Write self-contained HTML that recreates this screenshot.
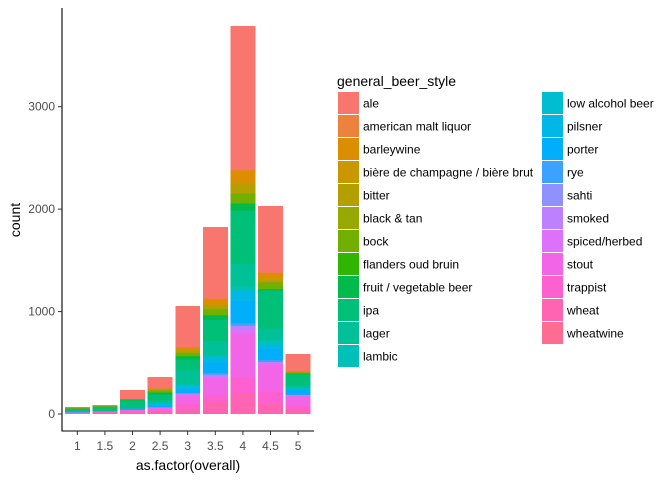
<!DOCTYPE html>
<html><head><meta charset="utf-8"><style>
body{margin:0;background:#fff;}
svg{font-family:"Liberation Sans",Arial,sans-serif;}
</style></head><body>
<svg id="chart" width="672" height="480" viewBox="0 0 672 480" xmlns="http://www.w3.org/2000/svg">
<g id="bars" shape-rendering="crispEdges"></g>
<g id="axes"></g>
<g id="legend"></g>
</svg>
<script>
const categories = ["1","1.5","2","2.5","3","3.5","4","4.5","5"];
const styles = ["ale","american malt liquor","barleywine","bière de champagne / bière brut","bitter","black & tan","bock","flanders oud bruin","fruit / vegetable beer","ipa","lager","lambic","low alcohol beer","pilsner","porter","rye","sahti","smoked","spiced/herbed","stout","trappist","wheat","wheatwine"];
const ale        = [4,12,90,110,404,700,1400,650,165];
const amerMalt   = [0,0,0,0,2,3,10,3,0];
const barleywine = [10,2,2,16,26,52,120,52,16];
const biere      = [0,0,0,0,4,8,20,26,0];
const bitter     = [0,0,0,6,20,33,81,10,2];
const blackTan   = [0,0,0,2,4,10,12,4,0];
const bock       = [2,2,2,15,30,55,90,65,8];
const flanders   = [0,0,0,3,4,6,8,4,2];
const fruit      = [10,4,12,19,30,39,62,13,8];
const ipa        = [20,40,70,60,108,205,520,371,108];
const lager      = [0,0,6,28,135,145,221,117,22];
const lambic     = [0,0,0,6,16,20,49,39,16];
const lowAlc     = [0,0,0,0,2,2,4,2,0];
const pilsner    = [0,0,0,10,33,52,88,39,2];
const porter     = [7,2,14,19,33,95,215,111,49];
const rye        = [0,0,0,4,6,16,23,16,4];
const sahti      = [0,0,0,0,2,4,6,2,0];
const smoked     = [0,0,0,4,7,16,33,10,4];
const spiced     = [0,0,2,4,10,20,40,16,8];
const stout      = [8,13,12,16,81,160,429,266,87];
const trappist   = [0,0,4,14,46,65,153,111,39];
const wheat      = [7,13,22,25,52,120,195,104,46];
const wheatwine  = [0,0,0,0,0,0,10,0,0];
const series = [ale,amerMalt,barleywine,biere,bitter,blackTan,bock,flanders,fruit,ipa,lager,lambic,lowAlc,pilsner,porter,rye,sahti,smoked,spiced,stout,trappist,wheat,wheatwine];
const yTicks = [0,1000,2000,3000];

function hcl(h){
  const L=65,C=100,hr=h*Math.PI/180;
  const u=C*Math.cos(hr),v=C*Math.sin(hr);
  const Xn=95.047,Yn=100,Zn=108.883,den=Xn+15*Yn+3*Zn;
  const un=4*Xn/den,vn=9*Yn/den;
  const Y=Yn*Math.pow((L+16)/116,3);
  const up=u/(13*L)+un,vp=v/(13*L)+vn;
  const X=9*Y*up/(4*vp),Z=Y*(12-3*up-20*vp)/(4*vp);
  const x=X/100,y=Y/100,z=Z/100;
  let r=3.2404542*x-1.5371385*y-0.4985314*z;
  let g=-0.9692660*x+1.8760108*y+0.0415560*z;
  let b=0.0556434*x-0.2040259*y+1.0572252*z;
  const gam=c=>{c=c<=0.0031308?12.92*c:1.055*Math.pow(c,1/2.4)-0.055;return Math.round(Math.max(0,Math.min(1,c))*255);};
  return `rgb(${gam(r)},${gam(g)},${gam(b)})`;
}
const colors = styles.map((s,i)=>hcl(15+360*i/styles.length));

const NS="http://www.w3.org/2000/svg";
function mk(tag,attrs,parent){const e=document.createElementNS(NS,tag);for(const k in attrs)e.setAttribute(k,attrs[k]);parent.appendChild(e);return e;}
const x0=77.3,step=27.6,bw=24.9;
const xScale=i=>x0+i*step;
const yScale=v=>414-v*0.10243;

const gb=document.getElementById('bars');
categories.forEach((c,ci)=>{
  let cum=0;
  for(let si=series.length-1;si>=0;si--){
    const v=series[si][ci];
    if(v<=0)continue;
    const r=mk('rect',{x:xScale(ci)-bw/2,y:yScale(cum+v),width:bw,height:yScale(cum)-yScale(cum+v),fill:colors[si]},gb);
    
    
    cum+=v;
  }
});

const ga=document.getElementById('axes');
let e=mk('line',{x1:62,y1:8,x2:62,y2:431.5,stroke:'#000','stroke-width':1.1},ga);

e=mk('line',{x1:61.5,y1:431,x2:314,y2:431,stroke:'#000','stroke-width':1.1},ga);

yTicks.forEach(t=>{
  const y=yScale(t);
  mk('line',{x1:58,y1:y,x2:62,y2:y,stroke:'#333'},ga);
  const tx=mk('text',{x:55,y:y+4,'text-anchor':'end','font-size':12,fill:'#4d4d4d'},ga);
  tx.textContent=t;
  
  
});
categories.forEach((c,i)=>{
  const x=xScale(i);
  mk('line',{x1:x,y1:431,x2:x,y2:435,stroke:'#333'},ga);
  const tx=mk('text',{x:x,y:450,'text-anchor':'middle','font-size':12,fill:'#4d4d4d'},ga);
  tx.textContent=c;
  
  
});
e=mk('text',{x:188,y:470,'text-anchor':'middle','font-size':14,fill:'#000'},ga);
e.textContent='as.factor(overall)';

e=mk('text',{x:20,y:220,'text-anchor':'middle','font-size':14,fill:'#000',transform:'rotate(-90 20 220)'},ga);
e.textContent='count';


const gl=document.getElementById('legend');
e=mk('text',{x:337,y:86,'font-size':14,fill:'#000'},gl);
e.textContent='general_beer_style';

styles.forEach((s,i)=>{
  const col=i<12?0:1,row=i<12?i:i-12;
  const kx=col?542:338,ky=92+row*23;
  const g=mk('g',{},gl);
  
  
  mk('rect',{x:kx,y:ky,width:21,height:22,fill:colors[i]},g);
  const t=mk('text',{x:kx+25,y:ky+15.5,'font-size':12,fill:'#000'},g);
  t.textContent=s;
});
</script>
</body></html>
